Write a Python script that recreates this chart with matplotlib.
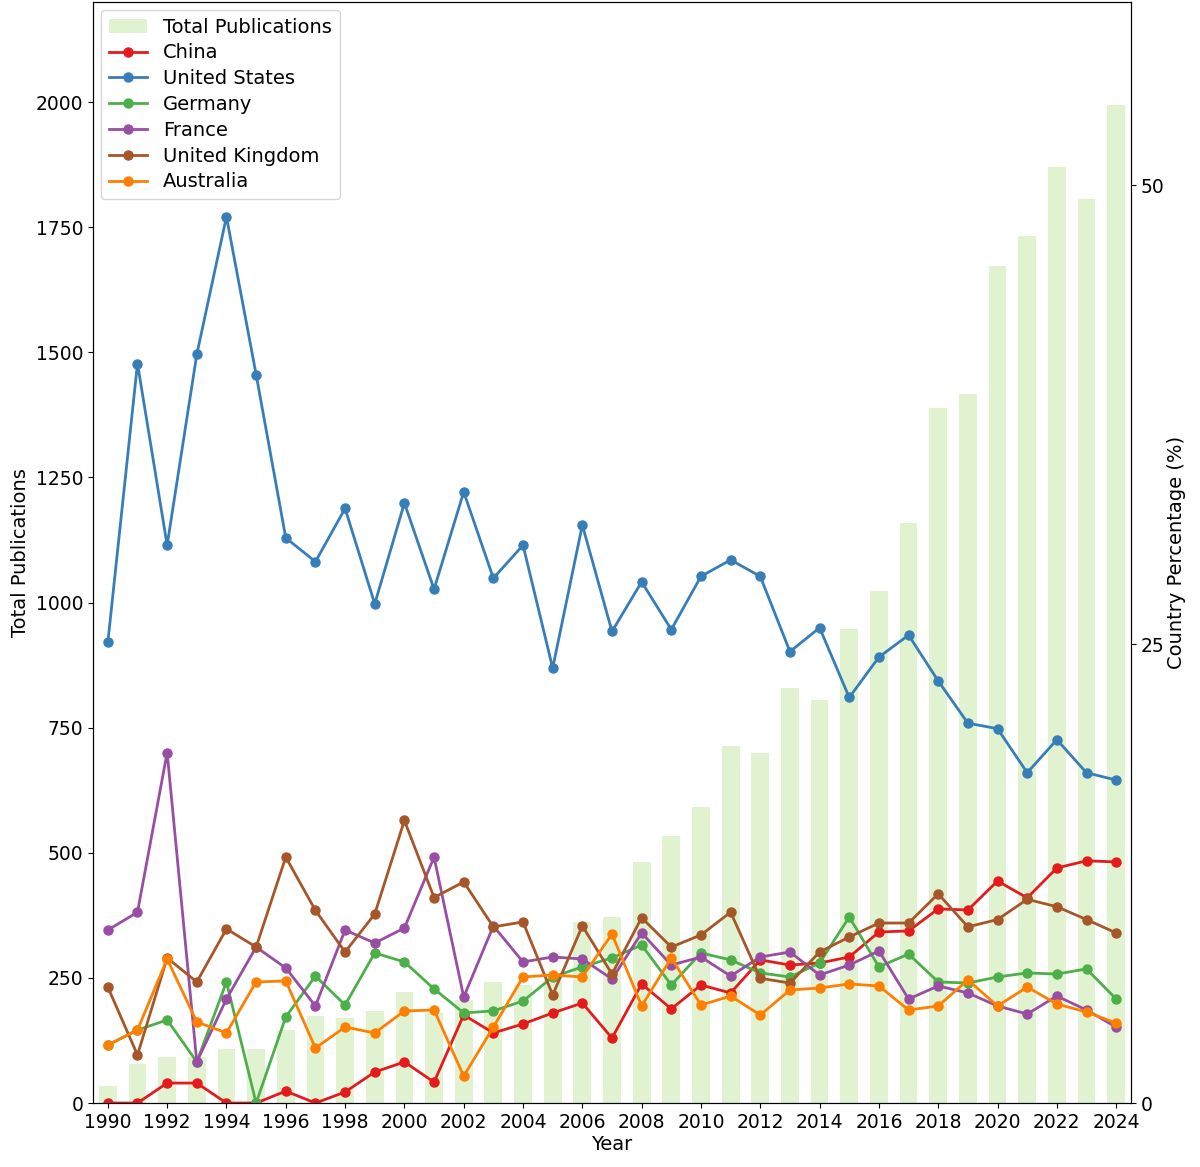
import numpy as np
import matplotlib
matplotlib.use("Agg")
import matplotlib.pyplot as plt

# Data
years = np.arange(1990, 2025)

total_pubs = [34, 78, 92, 92, 108, 108, 145, 174, 170, 184,
              222, 180, 206, 242, 236, 250, 362, 372, 482, 534,
              592, 713, 699, 829, 805, 947, 1024, 1158, 1388, 1416,
              1672, 1733, 1871, 1806, 1994]

china = [0, 0, 1.09, 1.09, 0, 0, 0.65, 0, 0.6, 1.69,
         2.24, 1.14, 4.8, 3.82, 4.31, 4.91, 5.45, 3.54, 6.49, 5.13,
         6.43, 6.0, 7.8, 7.52, 7.63, 7.96, 9.32, 9.38, 10.58, 10.52,
         12.1, 11.18, 12.81, 13.2, 13.14]

usa = [25.1, 40.3, 30.4, 40.8, 48.3, 39.7, 30.8, 29.5, 32.4, 27.2,
       32.7, 28.0, 33.3, 28.6, 30.4, 23.7, 31.5, 25.7, 28.4, 25.8,
       28.7, 29.6, 28.7, 24.6, 25.9, 22.1, 24.3, 25.5, 23.0, 20.7,
       20.4, 18.0, 19.8, 18.0, 17.6]

germany = [3.16, 3.98, 4.53, 2.24, 6.6, 0, 4.69, 6.92, 5.34, 8.18,
           7.69, 6.22, 4.91, 5.02, 5.56, 6.87, 7.42, 7.91, 8.61, 6.43,
           8.18, 7.8, 7.09, 6.87, 7.63, 10.14, 7.42, 8.12, 6.6, 6.54,
           6.87, 7.09, 7.03, 7.31, 5.67]

france = [9.43, 10.4, 19.1, 2.24, 5.67, 8.5, 7.36, 5.29, 9.43, 8.72,
          9.54, 13.4, 5.78, 9.65, 7.69, 7.96, 7.85, 6.76, 9.27, 7.52,
          7.96, 6.92, 7.96, 8.23, 6.98, 7.52, 8.29, 5.67, 6.38, 6.0,
          5.29, 4.85, 5.83, 5.07, 4.14]

uk = [6.32, 2.62, 7.91, 6.6, 9.49, 8.5, 13.4, 10.5, 8.23, 10.3,
      15.4, 11.2, 12.05, 9.6, 9.87, 5.89, 9.65, 7.03, 10.1, 8.5,
      9.16, 10.4, 6.8, 6.54, 8.23, 9.05, 9.81, 9.81, 11.4, 9.6,
      10.0, 11.1, 10.7, 10.0, 9.27]

australia = [3.16, 3.98, 7.85, 4.42, 3.82, 6.6, 6.65, 3.0, 4.14, 3.82,
             5.02, 5.07, 1.47, 4.14, 6.87, 6.98, 6.87, 9.21, 5.29, 7.91,
             5.34, 5.83, 4.8, 6.16, 6.27, 6.49, 6.38, 5.07, 5.29, 6.71,
             5.29, 6.32, 5.4, 4.96, 4.36]

countries = ["China", "United States", "Germany", "France", "United Kingdom", "Australia"]
series = [china, usa, germany, france, uk, australia]
colors = ["#e41a1c", "#377eb8", "#4daf4a", "#984ea3", "#a65628", "#ff7f00"]

# Plot
fig = plt.figure(figsize=(12, 11.67), dpi=100)
ax1 = fig.add_axes([0.0775, 0.0548, 0.865, 0.9435])
ax1.bar(years, total_pubs, width=0.6, color="#b2df8a", alpha=0.4, label="Total Publications")
ax1.set_ylim(0, 2200)
ax1.set_xlim(1989.5, 2024.5)
ax1.set_xticks(years[::2])
ax1.set_xlabel("Year", fontsize=14, labelpad=2)
ax1.set_ylabel("Total Publications", fontsize=14)
ax1.tick_params(labelsize=13.5)

ax2 = ax1.twinx()
for name, vals, c in zip(countries, series, colors):
    ax2.plot(years, vals, marker="o", color=c, linewidth=2, markersize=6.5, label=name)
ax2.set_ylim(0, 60)
ax2.set_yticks([0, 25, 50])
ax2.set_ylabel("Country Percentage (%)", fontsize=14, labelpad=2)
ax2.tick_params(labelsize=13.5)

h1, l1 = ax1.get_legend_handles_labels()
h2, l2 = ax2.get_legend_handles_labels()
ax2.legend(h1 + h2, l1 + l2, loc="upper left", fontsize=14, labelspacing=0.35,
           borderaxespad=0.4)

fig.savefig("out.png", dpi=100)
